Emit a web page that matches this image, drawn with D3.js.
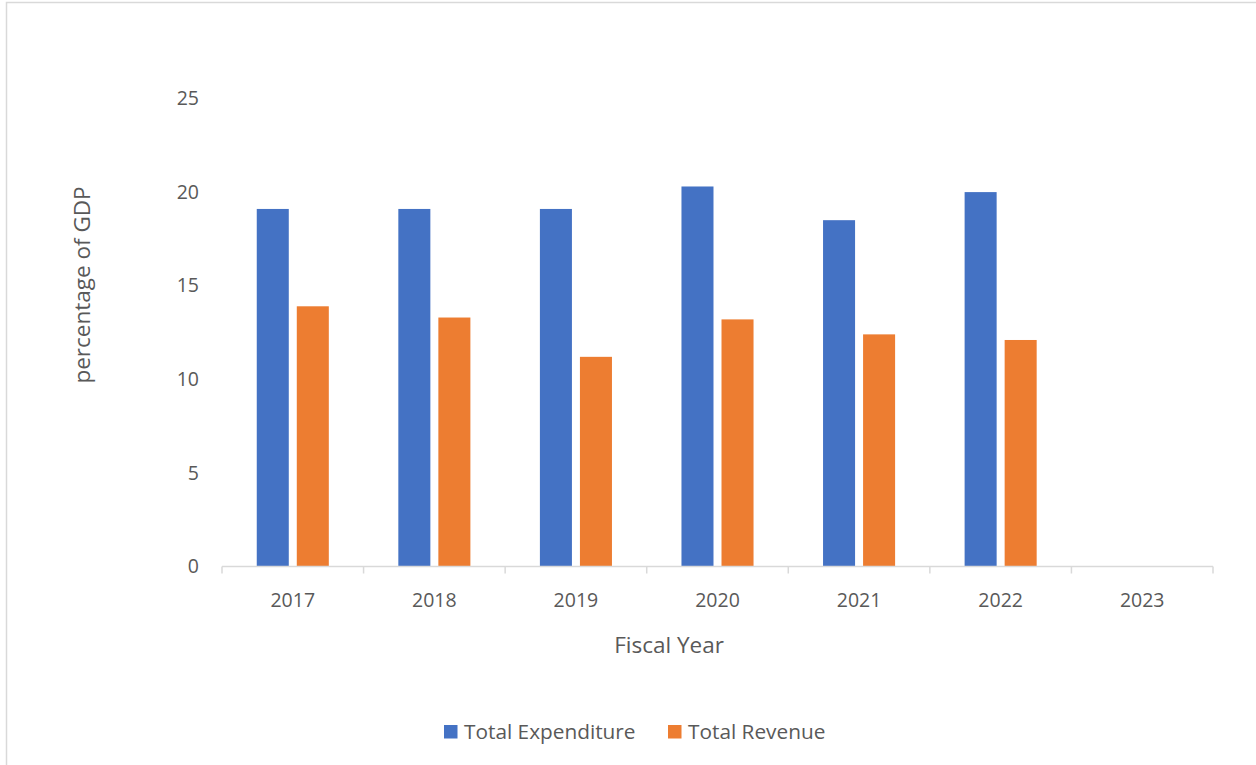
<!DOCTYPE html>
<html>
<head>
<meta charset="utf-8">
<script src="https://cdn.jsdelivr.net/npm/d3@7"></script>
<style>
  html, body { margin: 0; padding: 0; background: #fff; }
  svg { display: block; }
  text { font-family: "Open Sans", Lato, sans-serif; fill: #595959; }
</style>
</head>
<body>
<svg id="chart" width="1256" height="765"></svg>
<script>
const categories = ["2017", "2018", "2019", "2020", "2021", "2022", "2023"];
const seriesNames = ["Total Expenditure", "Total Revenue"];
const expenditure = [19.1, 19.1, 19.1, 20.3, 18.5, 20.0, null];
const revenue = [13.9, 13.3, 11.2, 13.2, 12.4, 12.1, null];
const yTicks = [0, 5, 10, 15, 20, 25];
const colors = ["#4472C4", "#ED7D31"];

const svg = d3.select("#chart");
const W = 1256, H = 765;
const FS_TICK = "19.5px", FS_TITLE = "22.5px", FS_LEG = "20.8px";

// outer chart border
svg.append("rect")
  .attr("x", 6.5).attr("y", 2.5)
  .attr("width", W + 10).attr("height", H + 10)
  .attr("fill", "#fff").attr("stroke", "#d9d9d9").attr("stroke-width", 1.5);

const plot = { left: 222, right: 1213, top: 98.5, bottom: 566.5 };

const x0 = d3.scaleBand().domain(categories).range([plot.left, plot.right]).padding(0);
const groupW = x0.bandwidth() * 0.509;
const x1 = d3.scaleBand().domain(seriesNames)
  .range([(x0.bandwidth() - groupW) / 2, (x0.bandwidth() + groupW) / 2])
  .paddingInner(0.2).paddingOuter(0);
const y = d3.scaleLinear().domain([0, 25]).range([plot.bottom, plot.top]);

const seriesData = [expenditure, revenue];

// bars
seriesNames.forEach((s, si) => {
  svg.append("g").selectAll("rect")
    .data(categories.map((c, i) => ({ c, v: seriesData[si][i] })).filter(d => d.v != null))
    .join("rect")
    .attr("x", d => x0(d.c) + x1(s))
    .attr("y", d => y(d.v))
    .attr("width", x1.bandwidth())
    .attr("height", d => y(0) - y(d.v))
    .attr("fill", colors[si]);
});

// y axis (labels only)
const yAxis = d3.axisLeft(y).tickValues(yTicks).tickSize(0).tickPadding(0).tickFormat(d3.format("d"));
const yg = svg.append("g").attr("transform", `translate(${199},0)`).call(yAxis);
yg.select(".domain").remove();
yg.selectAll("text").style("font-size", FS_TICK).attr("fill", "#595959")
  .style("font-family", "'Open Sans', Lato, sans-serif");

// x axis with ticks between categories
const xg = svg.append("g").attr("transform", `translate(0,${plot.bottom})`);
xg.append("line")
  .attr("x1", plot.left).attr("x2", plot.right)
  .attr("stroke", "#d9d9d9").attr("stroke-width", 1.5);
const boundaries = categories.map(c => x0(c)).concat([x0(categories[categories.length - 1]) + x0.bandwidth()]);
xg.selectAll("line.tick").data(boundaries).join("line")
  .attr("class", "tick")
  .attr("x1", d => d).attr("x2", d => d)
  .attr("y1", 0).attr("y2", 7)
  .attr("stroke", "#d9d9d9").attr("stroke-width", 1.5);
xg.selectAll("text").data(categories).join("text")
  .attr("x", d => x0(d) + x0.bandwidth() / 2)
  .attr("y", 40)
  .attr("text-anchor", "middle")
  .style("font-size", FS_TICK)
  .text(d => d);

// axis titles
svg.append("text")
  .attr("x", 669).attr("y", 653)
  .attr("text-anchor", "middle").style("font-size", FS_TITLE)
  .text("Fiscal Year");

svg.append("text")
  .attr("transform", `translate(${90},${285}) rotate(-90)`)
  .attr("text-anchor", "middle").style("font-size", FS_TITLE)
  .text("percentage of GDP");

// legend
const legend = svg.append("g");
const legendX = [444, 668];
seriesNames.forEach((s, i) => {
  legend.append("rect")
    .attr("x", legendX[i]).attr("y", 725)
    .attr("width", 13.5).attr("height", 13.5)
    .attr("fill", colors[i]);
  legend.append("text")
    .attr("x", legendX[i] + 20).attr("y", 739)
    .style("font-size", FS_LEG)
    .text(s);
});
</script>
</body>
</html>
